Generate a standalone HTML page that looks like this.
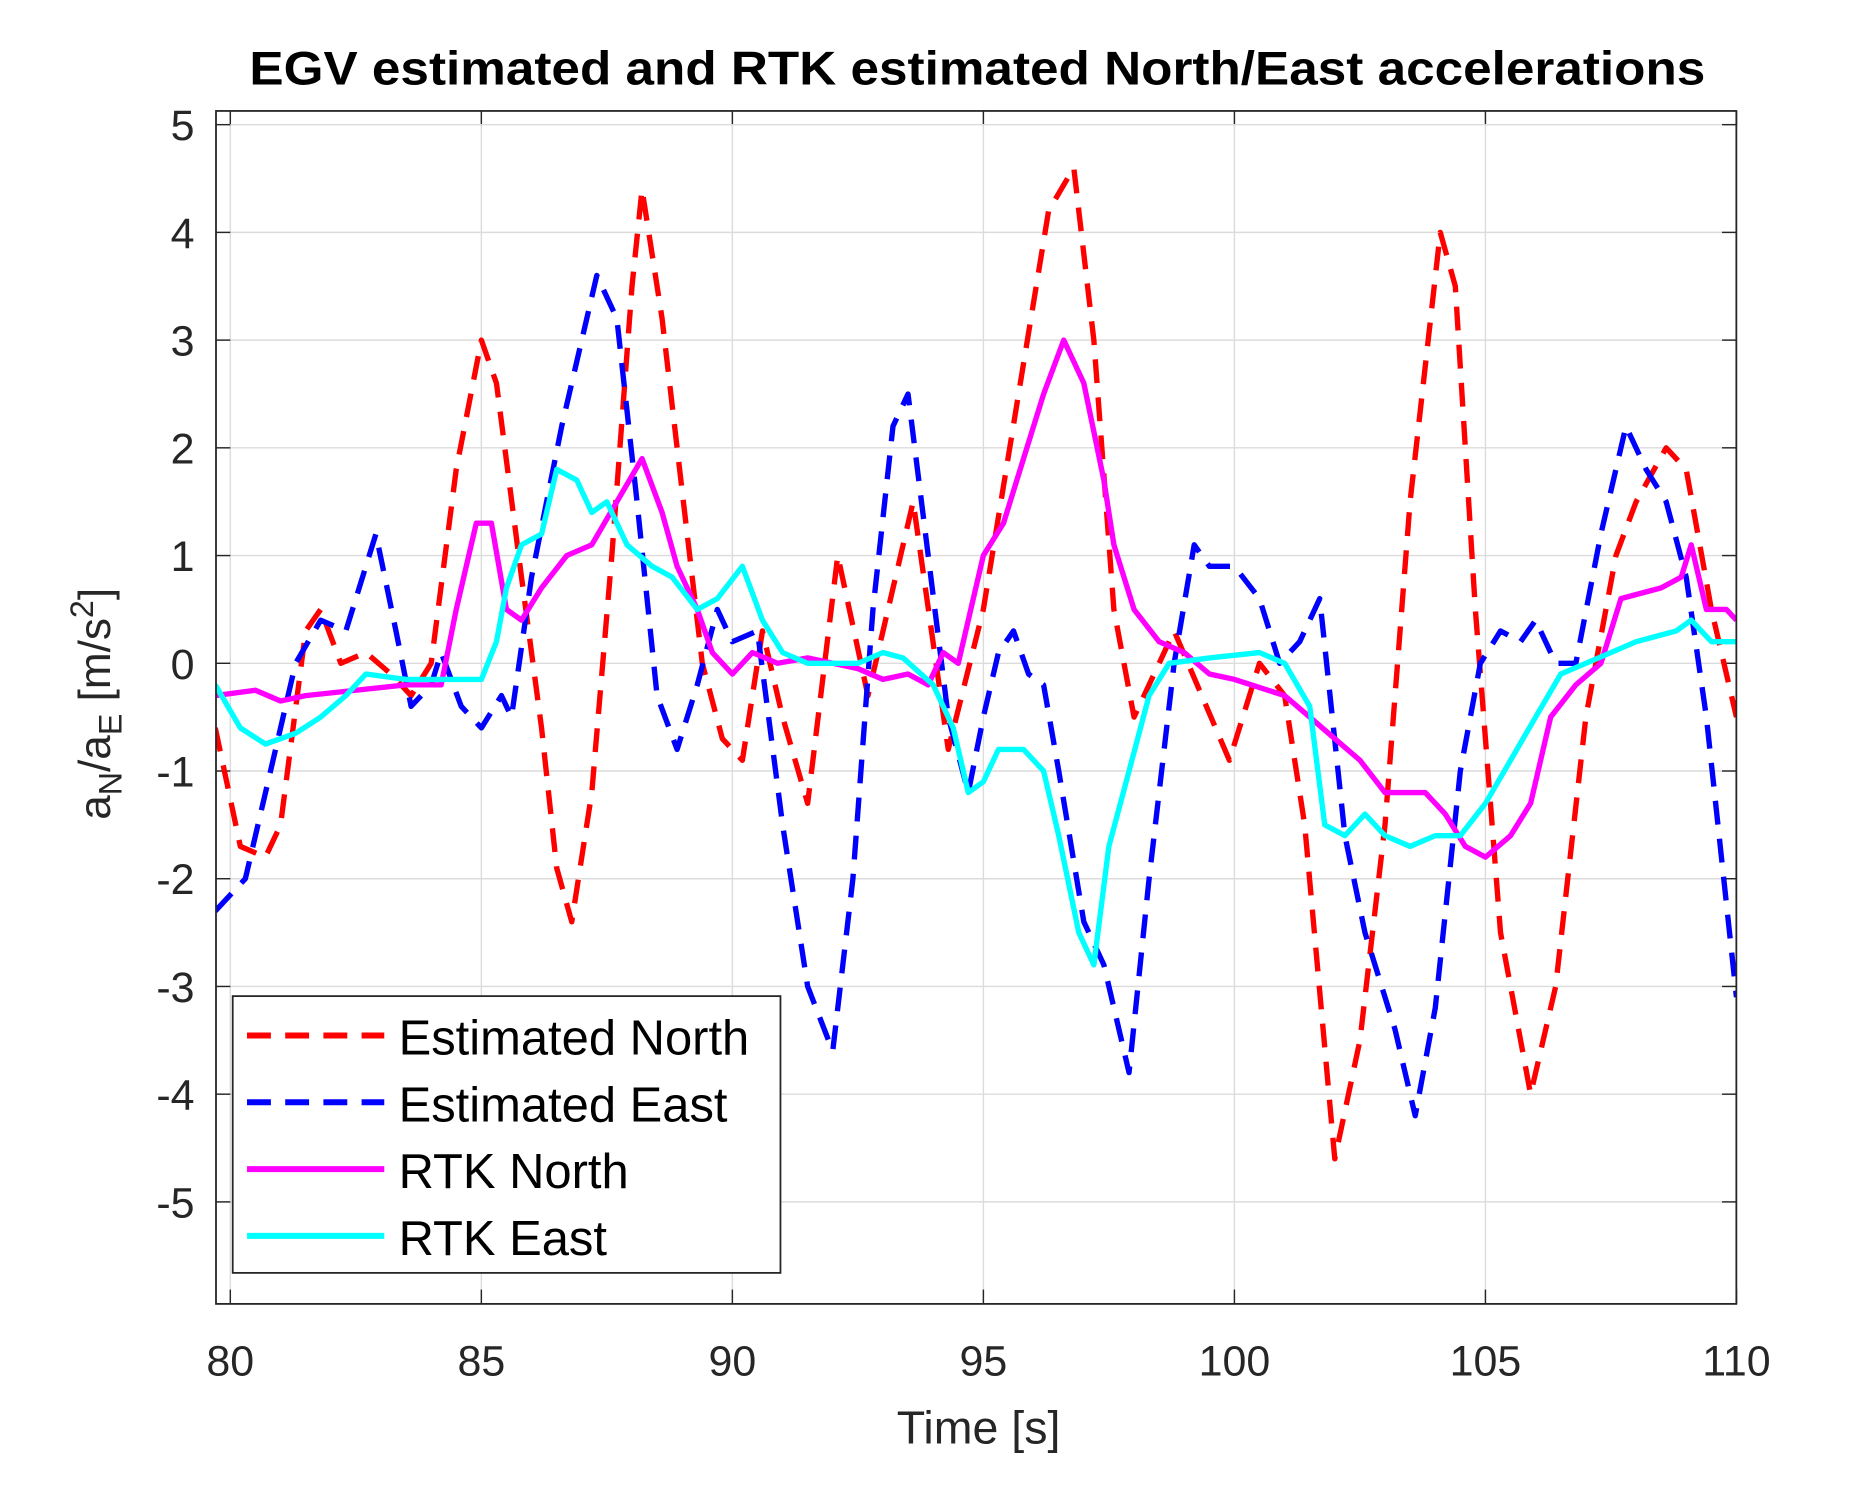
<!DOCTYPE html>
<html><head><meta charset="utf-8"><style>
html,body{margin:0;padding:0;background:#fff}
svg{display:block}
text{font-family:"Liberation Sans",Arial,sans-serif;fill:#262626}
</style></head><body>
<svg id="s" width="1870" height="1490" viewBox="0 0 1567 1249" preserveAspectRatio="none" xmlns="http://www.w3.org/2000/svg">
<defs><clipPath id="c"><rect x="181" y="93" width="1274" height="1000"/></clipPath></defs>
<rect width="1567" height="1249" fill="#fff"/>
<g id="grid" stroke="#dcdcdc" stroke-width="1.2"></g>
<g id="ticks" font-size="36" fill="#262626"></g>
<g id="data" clip-path="url(#c)" fill="none" stroke-linejoin="round"></g>
<rect x="181" y="93" width="1274" height="1000" fill="none" stroke="#262626" stroke-width="1.5"/>
<text x="819" y="71" font-size="40" font-weight="bold" text-anchor="middle" textLength="1220" lengthAdjust="spacingAndGlyphs" style="fill:#000">EGV estimated and RTK estimated North/East accelerations</text>
<text x="820" y="1210" font-size="39" text-anchor="middle">Time [s]</text>
<text transform="translate(92,590) rotate(-90)" font-size="37" text-anchor="middle">a<tspan font-size="27" dy="10">N</tspan><tspan dy="-10">/a</tspan><tspan font-size="27" dy="10">E</tspan><tspan dy="-10"> [m/s</tspan><tspan font-size="27" dy="-14">2</tspan><tspan dy="14">]</tspan></text>
<rect x="195" y="835" width="459" height="232" fill="#fff" stroke="#262626" stroke-width="1.5"/>
<g stroke-width="5">
<line x1="207" y1="868" x2="322" y2="868" stroke="#ff0000" stroke-dasharray="20,12"/>
<line x1="207" y1="924" x2="322" y2="924" stroke="#0000ff" stroke-dasharray="20,12"/>
<line x1="207" y1="980" x2="322" y2="980" stroke="#ff00ff"/>
<line x1="207" y1="1036" x2="322" y2="1036" stroke="#00ffff"/>
</g>
<g font-size="41">
<text x="334" y="884" style="fill:#000">Estimated North</text>
<text x="334" y="940" style="fill:#000">Estimated East</text>
<text x="334" y="996" style="fill:#000">RTK North</text>
<text x="334" y="1052" style="fill:#000">RTK East</text>
</g>
</svg>
<script>
var X=function(t){return 193+(t-80)*42.07},Y=function(v){return 556-v*90.3};
var NS="http://www.w3.org/2000/svg";
function el(p,n,a,txt){var e=document.createElementNS(NS,n);for(var k in a)e.setAttribute(k,a[k]);if(txt!=null)e.textContent=txt;document.getElementById(p).appendChild(e);return e;}
for(var t=80;t<=110;t+=5){var x=X(t);el("grid","line",{x1:x,y1:93,x2:x,y2:1093});el("grid","line",{x1:x,y1:1093,x2:x,y2:1081,stroke:"#262626"});el("grid","line",{x1:x,y1:93,x2:x,y2:105,stroke:"#262626"});el("ticks","text",{x:x,y:1153,"text-anchor":"middle"},String(t));}
for(var v=-5;v<=5;v++){var y=Y(v);el("grid","line",{x1:181,y1:y,x2:1455,y2:y});el("grid","line",{x1:181,y1:y,x2:193,y2:y,stroke:"#262626"});el("grid","line",{x1:1455,y1:y,x2:1443,y2:y,stroke:"#262626"});el("ticks","text",{x:163,y:y+13,"text-anchor":"end"},String(v));}
var EN=[79.7,-0.6,80.2,-1.7,80.7,-1.8,81.0,-1.5,81.5,0.3,81.8,0.5,82.2,0,82.7,0.1,83.2,-0.1,83.6,-0.3,84.0,0,84.5,1.8,85.0,3.0,85.3,2.6,85.8,0.8,86.2,-0.6,86.5,-1.9,86.8,-2.4,87.2,-1.2,87.6,1.0,88.0,3.5,88.2,4.4,88.6,3.2,89.0,1.6,89.4,0.0,89.8,-0.7,90.2,-0.9,90.6,0.3,91.0,-0.5,91.5,-1.3,92.1,1.0,92.7,-0.3,93.6,1.5,94.3,-0.8,95.0,0.5,95.7,2.5,96.3,4.2,96.8,4.6,97.2,3.0,97.6,0.5,98.0,-0.5,98.8,0.3,99.9,-0.9,100.5,0,101.0,-0.3,101.4,-1.5,102.0,-4.6,102.5,-3.5,103.0,-1.5,103.5,1.5,104.1,4.0,104.4,3.5,104.8,0.5,105.3,-2.5,105.9,-4.0,106.4,-3.0,107.0,-0.5,107.6,1.0,108.0,1.5,108.6,2.0,109.0,1.8,109.5,0.5,110,-0.5];
var EE=[79.7,-2.3,80.3,-2.0,80.8,-1.0,81.3,0,81.8,0.4,82.3,0.3,82.9,1.2,83.3,0.3,83.6,-0.4,84.0,-0.2,84.2,0.1,84.6,-0.4,85.0,-0.6,85.4,-0.3,85.6,-0.5,86.0,0.8,86.6,2.2,87.3,3.6,87.7,3.2,88.1,1.5,88.5,-0.3,88.9,-0.8,89.3,-0.2,89.7,0.5,90.0,0.2,90.5,0.3,91.0,-1.5,91.5,-3.0,92.0,-3.6,92.4,-2.0,92.8,0.5,93.2,2.2,93.5,2.5,93.9,1.0,94.3,-0.5,94.7,-1.2,95.0,-0.5,95.3,0.1,95.6,0.3,95.9,-0.1,96.2,-0.2,96.5,-1.0,97.0,-2.4,97.4,-2.8,97.9,-3.8,98.3,-2.0,98.8,0,99.2,1.1,99.5,0.9,100.0,0.9,100.5,0.6,100.9,0.0,101.3,0.2,101.7,0.6,102.2,-1.6,102.6,-2.5,103.2,-3.4,103.6,-4.2,104.0,-3.2,104.5,-1.0,104.9,0.0,105.3,0.3,105.7,0.2,106.0,0.4,106.4,0,106.8,0.0,107.3,1.2,107.8,2.2,108.2,1.8,108.6,1.5,109.0,0.8,109.4,-0.5,110,-3.1];
var RN=[79.7,-0.3,80.5,-0.25,81.0,-0.35,81.5,-0.3,82.5,-0.25,83.5,-0.2,84.2,-0.2,84.5,0.5,84.9,1.3,85.2,1.3,85.5,0.5,85.8,0.4,86.2,0.7,86.7,1.0,87.2,1.1,87.7,1.5,88.2,1.9,88.6,1.4,88.9,0.9,89.3,0.5,89.6,0.1,90.0,-0.1,90.4,0.1,90.9,0.0,91.5,0.05,92.5,-0.05,93.0,-0.15,93.5,-0.1,93.9,-0.2,94.2,0.1,94.5,0.0,95.0,1.0,95.4,1.3,95.8,1.9,96.2,2.5,96.6,3.0,97.0,2.6,97.4,1.7,97.6,1.1,98.0,0.5,98.5,0.2,99.0,0.1,99.5,-0.1,100.0,-0.15,101.0,-0.3,101.5,-0.5,102.0,-0.7,102.5,-0.9,103.0,-1.2,103.8,-1.2,104.2,-1.4,104.6,-1.7,105.0,-1.8,105.5,-1.6,105.9,-1.3,106.3,-0.5,106.8,-0.2,107.3,0.0,107.7,0.6,108.5,0.7,108.9,0.8,109.1,1.1,109.4,0.5,109.8,0.5,110,0.4];
var RE=[79.7,-0.2,80.2,-0.6,80.7,-0.75,81.3,-0.65,81.8,-0.5,82.3,-0.3,82.7,-0.1,83.5,-0.15,84.0,-0.15,84.5,-0.15,85.0,-0.15,85.3,0.2,85.5,0.7,85.8,1.1,86.2,1.2,86.5,1.8,86.9,1.7,87.2,1.4,87.5,1.5,87.9,1.1,88.4,0.9,88.8,0.8,89.3,0.5,89.7,0.6,90.2,0.9,90.6,0.4,91.0,0.1,91.5,0.0,92.5,0.0,93.0,0.1,93.4,0.05,94.0,-0.2,94.4,-0.6,94.7,-1.2,95.0,-1.1,95.3,-0.8,95.8,-0.8,96.2,-1.0,96.5,-1.6,96.9,-2.5,97.2,-2.8,97.5,-1.7,97.9,-1.0,98.3,-0.3,98.7,0.0,99.5,0.05,100.5,0.1,101.0,0.0,101.5,-0.4,101.8,-1.5,102.2,-1.6,102.6,-1.4,103.0,-1.6,103.5,-1.7,104.0,-1.6,104.5,-1.6,105.0,-1.3,105.5,-0.9,106.0,-0.5,106.5,-0.1,107.0,0.0,107.5,0.1,108.0,0.2,108.8,0.3,109.1,0.4,109.5,0.2,110,0.2];
function path(a){var d="";for(var i=0;i<a.length;i+=2)d+=(i?"L":"M")+X(a[i]).toFixed(1)+","+Y(a[i+1]).toFixed(1);return d;}
el("data","path",{d:path(EN),stroke:"#ff0000","stroke-width":4.5,"stroke-dasharray":"20,12"});
el("data","path",{d:path(EE),stroke:"#0000ff","stroke-width":4.5,"stroke-dasharray":"20,12"});
el("data","path",{d:path(RN),stroke:"#ff00ff","stroke-width":4.5});
el("data","path",{d:path(RE),stroke:"#00ffff","stroke-width":4.5});
</script>
</body></html>
